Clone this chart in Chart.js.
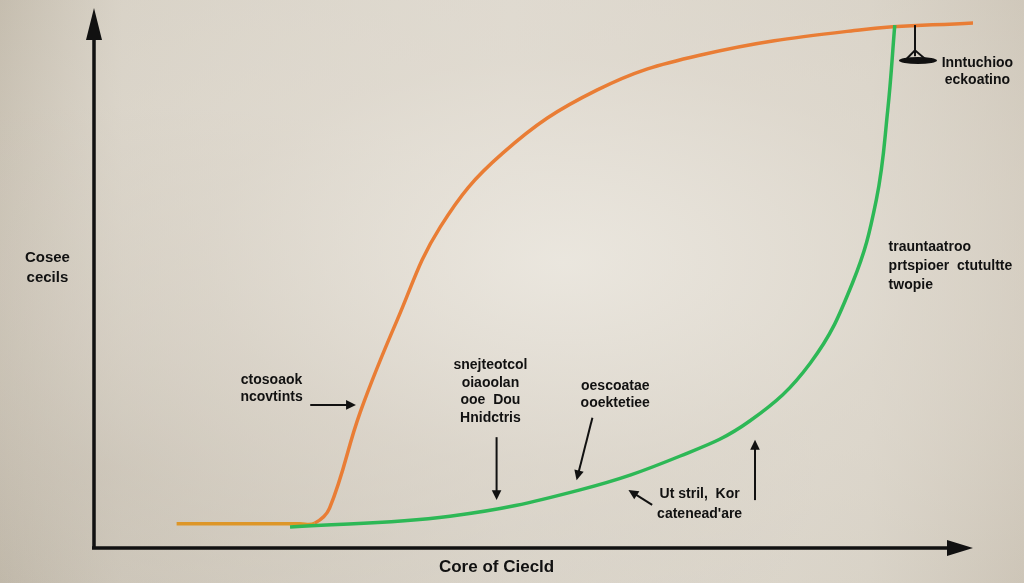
<!DOCTYPE html>
<html>
<head>
<meta charset="utf-8">
<script src="https://cdn.jsdelivr.net/npm/chart.js@4.4.0/dist/chart.umd.min.js"></script>
<style>
  html, body { margin: 0; padding: 0; }
  body {
    width: 1024px; height: 583px; overflow: hidden;
    background:
      radial-gradient(ellipse at 55% 45%, rgba(236,232,224,0.9) 0%, rgba(226,220,210,0.6) 45%, rgba(190,182,168,0.0) 100%),
      radial-gradient(ellipse at 10% 80%, rgba(190,182,168,0.7) 0%, rgba(200,192,178,0) 55%),
      linear-gradient(90deg, #c2baab 0%, #d6d0c4 12%, #ddd8ce 50%, #d6d0c4 85%, #cbc3b5 100%);
  }
  #wrap { position: relative; width: 1024px; height: 583px; }
</style>
</head>
<body>
<div id="wrap"><canvas id="chart" width="1024" height="583"></canvas></div>
<script>
// orange curve (x, y)
let orangeX = [9.4, 23.4, 25.1, 26.8, 30.3, 34.5, 39.4, 46.5, 57.2, 68.9, 87.1, 100.2];
let orangeY = [4.5, 4.5, 4.6, 7.4, 25.3, 42.4, 59.7, 73.4, 85.1, 91.6, 96.3, 97.6];

// green curve (x, y)
let greenX = [22.3, 40.5, 55.3, 66.7, 74.6, 81.5, 86.3, 89.0, 90.3, 91.1];
let greenY = [3.9, 5.9, 10.8, 17.1, 23.6, 34.4, 49.3, 64.7, 81.4, 97.2];

let xTitle = 'Core of Ciecld';
let yTitle = ['Cosee', 'cecils'];

// callouts: text lines, anchor in data units, alignment
let notes = [
    { lines: ['Inntuchioo', 'eckoatino'], x: 100.5, y: 90.1, align: 'center', lh: 17 },
    { lines: ['trauntaatroo', 'prtspioer  ctutultte', 'twopie'], x: 90.4, y: 55.9, align: 'left', lh: 19 },
    { lines: ['ctosoaok', 'ncovtints'], x: 20.2, y: 31.2, align: 'center', lh: 17 },
    { lines: ['snejteotcol', 'oiaoolan', 'ooe  Dou', 'Hnidctris'], x: 45.1, y: 34.0, align: 'center', lh: 17.7 },
    { lines: ['oescoatae', 'ooektetiee'], x: 59.3, y: 30.1, align: 'center', lh: 17 },
    { lines: ['Ut stril,  Kor', "catenead'are"], x: 68.9, y: 10.0, align: 'center', lh: 20 }
];
let arrows = [
    [24.6, 26.6, 29.8, 26.6],
    [45.8, 20.6, 45.8, 8.9],
    [56.7, 24.2, 54.9, 12.6],
    [63.5, 8.0, 60.8, 10.8],
    [75.2, 8.9, 75.2, 20.1]
];

function toPoints(xs, ys){
    return xs.map((x, i) => ({ x: x, y: ys[i] }));
}

function arrowHead(ctx, x1, y1, x2, y2, size){
    let a = Math.atan2(y2 - y1, x2 - x1);
    ctx.beginPath();
    ctx.moveTo(x2, y2);
    ctx.lineTo(x2 - size * Math.cos(a - 0.45), y2 - size * Math.sin(a - 0.45));
    ctx.lineTo(x2 - size * Math.cos(a + 0.45), y2 - size * Math.sin(a + 0.45));
    ctx.closePath();
    ctx.fill();
}

const decorations = {
    id: 'decorations',
    afterDatasetsDraw(chart){
        let ctx = chart.ctx;
        let sx = chart.scales.x, sy = chart.scales.y;
        let px = v => sx.getPixelForValue(v);
        let py = v => sy.getPixelForValue(v);
        let left = px(0), bottom = py(0), top = py(100), right = px(100);

        ctx.save();
        ctx.fillStyle = '#111';
        ctx.strokeStyle = '#111';

        // axes
        ctx.lineWidth = 3.5;
        ctx.beginPath();
        ctx.moveTo(left, bottom + 1);
        ctx.lineTo(left, top + 20);
        ctx.moveTo(left - 2, bottom);
        ctx.lineTo(right - 20, bottom);
        ctx.stroke();
        ctx.beginPath();
        ctx.moveTo(left, top - 2);
        ctx.lineTo(left - 8, top + 30);
        ctx.lineTo(left + 8, top + 30);
        ctx.closePath();
        ctx.fill();
        ctx.beginPath();
        ctx.moveTo(right, bottom);
        ctx.lineTo(right - 26, bottom - 8);
        ctx.lineTo(right - 26, bottom + 8);
        ctx.closePath();
        ctx.fill();

        // small marker under the top end of the curves
        let mx = px(93.4);
        ctx.lineWidth = 2;
        ctx.beginPath();
        ctx.moveTo(mx, py(97.2));
        ctx.lineTo(mx, py(91.4));
        ctx.stroke();
        ctx.beginPath();
        ctx.ellipse(mx + 3, py(90.6), 19, 3.5, 0, 0, Math.PI * 2);
        ctx.fill();
        ctx.beginPath();
        ctx.moveTo(mx - 10, py(90.6));
        ctx.lineTo(mx, py(92.5));
        ctx.lineTo(mx + 12, py(90.6));
        ctx.stroke();

        // callout arrows
        ctx.lineWidth = 2;
        arrows.forEach(a => {
            let x1 = px(a[0]), y1 = py(a[1]), x2 = px(a[2]), y2 = py(a[3]);
            let ang = Math.atan2(y2 - y1, x2 - x1);
            ctx.beginPath();
            ctx.moveTo(x1, y1);
            ctx.lineTo(x2 - 6 * Math.cos(ang), y2 - 6 * Math.sin(ang));
            ctx.stroke();
            arrowHead(ctx, x1, y1, x2, y2, 11);
        });

        // callout texts
        ctx.font = 'bold 14px "Liberation Sans", Arial, sans-serif';
        ctx.textBaseline = 'middle';
        notes.forEach(n => {
            ctx.textAlign = n.align;
            n.lines.forEach((t, i) => {
                ctx.fillText(t, px(n.x), py(n.y) + i * n.lh);
            });
        });

        // axis titles
        ctx.textAlign = 'center';
        ctx.font = 'bold 15px "Liberation Sans", Arial, sans-serif';
        yTitle.forEach((t, i) => ctx.fillText(t, px(-5.3), py(53.9) + i * 20));
        ctx.font = 'bold 17px "Liberation Sans", Arial, sans-serif';
        ctx.fillText(xTitle, px(45.8), py(-3.5));
        ctx.restore();
    }
};

function generateChart(){
    let context = document.getElementById('chart').getContext('2d');
    let chart = new Chart(context, {
        type: 'line',
        data: {
            datasets: [{
                label: 'green',
                data: toPoints(greenX, greenY),
                borderColor: '#2db856',
                borderWidth: 3.5,
                pointRadius: 0,
                tension: 0.4,
                fill: false
            }, {
                label: 'orange',
                data: toPoints(orangeX, orangeY),
                borderColor: '#e97d35',
                borderWidth: 3.5,
                pointRadius: 0,
                tension: 0.4,
                fill: false,
                segment: {
                    borderColor: c => c.p1.parsed.x <= 25.2 ? '#dd9628' : undefined
                }
            }]
        },
        options: {
            responsive: false,
            animation: false,
            layout: { padding: { left: 94, right: 51, top: 10, bottom: 35 } },
            scales: {
                x: { type: 'linear', min: 0, max: 100, display: false },
                y: { type: 'linear', min: 0, max: 100, display: false }
            },
            plugins: {
                legend: { display: false },
                tooltip: { enabled: false }
            }
        },
        plugins: [decorations]
    });
    return chart;
}

generateChart();
</script>
</body>
</html>
